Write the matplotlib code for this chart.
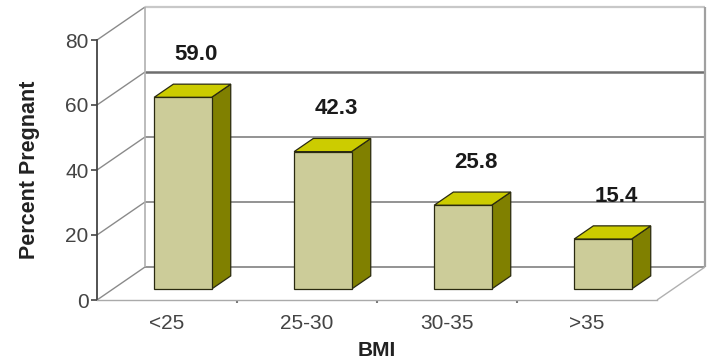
import matplotlib.pyplot as plt
from matplotlib.patches import Polygon

plt.rcParams['font.family'] = ['Liberation Sans', 'DejaVu Sans']

# BMI groups and pregnancy rate
categories = ['<25', '25-30', '30-35', '>35']
percent_pregnant = [59.0, 42.3, 25.8, 15.4]
y_ticks = [0, 20, 40, 60, 80]

fig = plt.figure(figsize=(7.09, 3.62), dpi=100)
ax = fig.add_axes([97 / 709, 62 / 362, 560 / 709, 260 / 362])
ax.set_xlim(-0.5, 3.5)
ax.set_ylim(0, 80)

# fake 3D: shift per unit of depth, in data units
DX = 48 / 140
DY = 33 / 3.25


def proj(x, y, z):
    return (x + z * DX, y + z * DY)


def line3d(p, q, **kw):
    a, b = proj(*p), proj(*q)
    ax.plot([a[0], b[0]], [a[1], b[1]], clip_on=False, solid_capstyle='butt', **kw)


x_lo, x_hi = -0.5, 3.5
# back wall grid + left wall diagonals
for t in y_ticks:
    if t == 80:
        col, lw = '#c8c8c8', 1.6
    elif t == 60:
        col, lw = '#6e6e6e', 1.8
    else:
        col, lw = '#8a8a8a', 1.3
    line3d((x_lo, t, 1), (x_hi, t, 1), color=col, lw=lw, zorder=1)
    line3d((x_lo, t, 0), (x_lo, t, 1), color='#8a8a8a', lw=1.0, zorder=1)
line3d((x_lo, 0, 1), (x_lo, 80, 1), color='#b0b0b0', lw=1.2, zorder=1)
line3d((x_hi, 0, 1), (x_hi, 80, 1), color='#a0a0a0', lw=1.6, zorder=1)
line3d((x_hi, 0, 0), (x_hi, 0, 1), color='#b0b0b0', lw=1.0, zorder=1)

# bars
z0, z1 = 0.33, 0.73
w = 0.41
for i, v in enumerate(percent_pregnant):
    x0, x1 = i - w / 2, i + w / 2
    front = [proj(x0, 0, z0), proj(x1, 0, z0), proj(x1, v, z0), proj(x0, v, z0)]
    top = [proj(x0, v, z0), proj(x1, v, z0), proj(x1, v, z1), proj(x0, v, z1)]
    side = [proj(x1, 0, z0), proj(x1, 0, z1), proj(x1, v, z1), proj(x1, v, z0)]
    for pts, fc in [(side, '#808000'), (top, '#cccc00'), (front, '#cccc99')]:
        ax.add_patch(Polygon(pts, closed=True, facecolor=fc, edgecolor='#2a2a10',
                             lw=0.9, clip_on=False, zorder=3))
    ax.text(i + 0.21, v + 16.5, f'{v:.1f}', ha='center', va='center',
            fontsize=16, fontweight='bold', color='#1a1a1a', zorder=4)

ax.set_xticks(range(len(categories)))
ax.set_xticklabels(categories)
ax.set_xticks([0.5, 1.5, 2.5], minor=True)
ax.set_yticks(y_ticks)
ax.tick_params(axis='x', which='major', length=0, pad=10, labelsize=15, labelcolor='#444444')
ax.tick_params(axis='x', which='minor', length=2, width=1.5, color='#777777')
ax.tick_params(axis='y', length=4, width=1.2, color='#444444', pad=2,
               labelsize=15, labelcolor='#444444')
for s in ['top', 'right']:
    ax.spines[s].set_visible(False)
ax.spines['left'].set_color('#444444')
ax.spines['left'].set_linewidth(1.3)
ax.spines['bottom'].set_color('#aaaaaa')
ax.spines['bottom'].set_linewidth(1.0)
ax.patch.set_visible(False)

ax.set_xlabel('BMI', fontsize=15, fontweight='bold', color='#222222', labelpad=6)
ax.set_ylabel('Percent Pregnant', fontsize=15.5, fontweight='bold', color='#222222', labelpad=18)

fig.savefig('out.png', dpi=100)
